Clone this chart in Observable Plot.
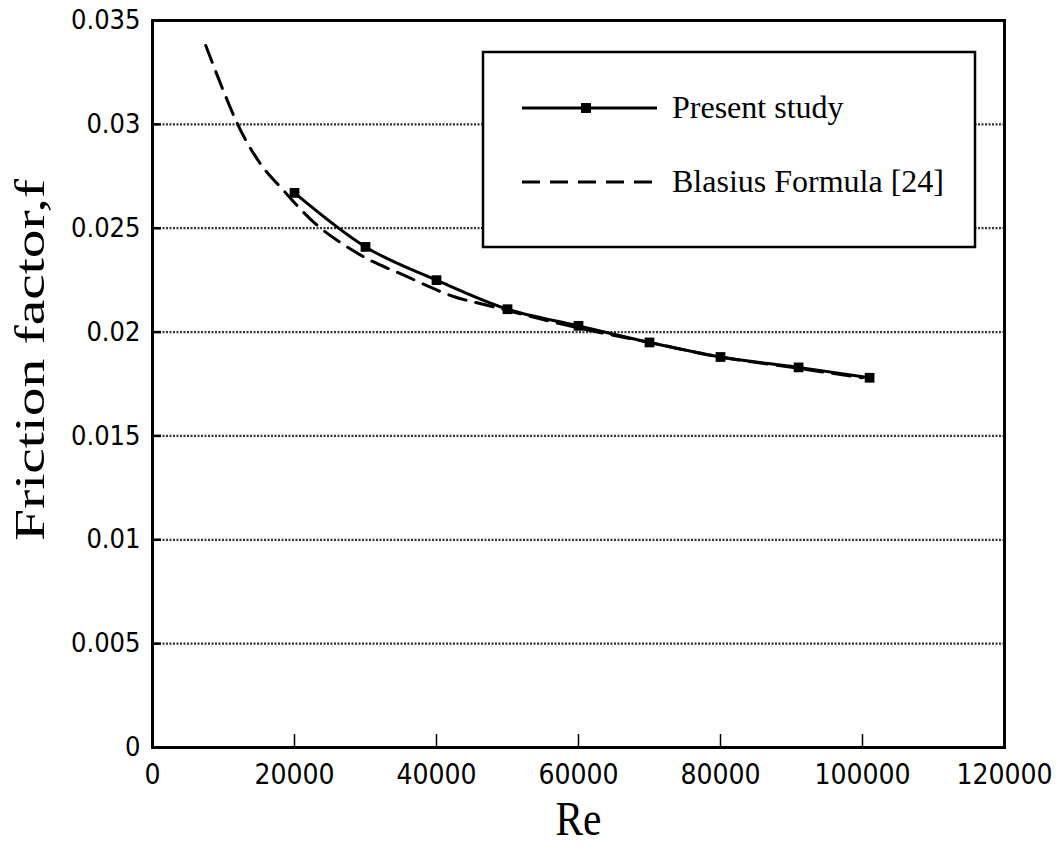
<!DOCTYPE html>
<html>
<head>
<meta charset="utf-8">
<script src="https://cdn.jsdelivr.net/npm/d3@7"></script>
<script src="https://cdn.jsdelivr.net/npm/@observablehq/plot@0.6"></script>
<style>
  html, body { margin: 0; padding: 0; background: #fff; }
  #chart { width: 1058px; height: 852px; }
</style>
</head>
<body>
<div id="chart"></div>
<script>
// ---- data ----
const presentRe = [20000, 30000, 40000, 50000, 60000, 70000, 80000, 91000, 101000];
const presentF  = [0.0267, 0.0241, 0.0225, 0.0211, 0.0203, 0.0195, 0.0188, 0.0183, 0.0178];

const blasiusRe = [7500, 10000, 12000, 14800, 18500, 23000, 26500, 31000, 35000, 42500, 47000, 55000, 60000, 70000, 80000, 90000, 100000];
const blasiusF  = [0.0338, 0.0316, 0.0300, 0.0283, 0.0268, 0.0252, 0.0243, 0.0234, 0.0228, 0.0217, 0.0213, 0.0206, 0.0202, 0.0195, 0.0188, 0.0183, 0.0178];

const xTicks = [0, 20000, 40000, 60000, 80000, 100000, 120000];
const yTicks = [0, 0.005, 0.01, 0.015, 0.02, 0.025, 0.03, 0.035];
const gridTicks = [0.005, 0.01, 0.015, 0.02, 0.025, 0.03];
const innerXTicks = [20000, 40000, 60000, 80000, 100000];

const seriesNames = ["Present study", "Blasius Formula [24]"];
const xTitle = "Re";
const yTitle = "Friction factor,f";

const present = presentRe.map((re, i) => ({re, f: presentF[i]}));
const blasius = blasiusRe.map((re, i) => ({re, f: blasiusF[i]}));

const tickFont = "'DejaVu Sans Condensed', 'DejaVu Sans', sans-serif";
const serif = "'Liberation Serif', 'DejaVu Serif', serif";

const chart = Plot.plot({
  width: 1058,
  height: 852,
  marginLeft: 152,
  marginRight: 54,
  marginTop: 20,
  marginBottom: 105,
  style: {background: "#fff", color: "#000", overflow: "visible"},
  x: {domain: [0, 120000]},
  y: {domain: [0, 0.035]},
  marks: [
    Plot.gridY(gridTicks, {stroke: "#333", strokeOpacity: 1, strokeWidth: 2.2, strokeDasharray: "2,1.5"}),
    // inward tick marks (axis ticks shifted inside the frame)
    Plot.axisY(gridTicks, {tickSize: 9, dx: 9, text: null, strokeWidth: 2.5, label: null}),
    Plot.axisX(innerXTicks, {tickSize: 13, dy: -13, text: null, strokeWidth: 1.5, label: null}),
    // tick labels
    Plot.axisY(yTicks, {tickSize: 0, tickPadding: 12, tickFormat: d => String(d), fontSize: 27, fontFamily: tickFont, fontStretch: "condensed", label: null}),
    Plot.axisX(xTicks, {tickSize: 0, tickPadding: 17, tickFormat: d => String(d), fontSize: 28, fontFamily: tickFont, fontStretch: "condensed", label: null}),
    Plot.line(blasius, {x: "re", y: "f", stroke: "#000", strokeWidth: 3, strokeDasharray: "18,10", curve: "monotone-x"}),
    Plot.line(present, {x: "re", y: "f", stroke: "#000", strokeWidth: 3, curve: "monotone-x"}),
    Plot.dot(present, {x: "re", y: "f", symbol: "square", r: 5.5, fill: "#000", stroke: "none"}),
    Plot.frame({stroke: "#000", strokeWidth: 3}),
    Plot.text([yTitle], {className: "ytitle", frameAnchor: "left", textAnchor: "middle", dx: -122, dy: -24, rotate: -90, fontSize: 42, fontFamily: serif, fill: "#000"}),
    Plot.text([xTitle], {className: "xtitle", frameAnchor: "bottom", textAnchor: "middle", dy: 87, fontSize: 48, fontFamily: serif, fill: "#000"})
  ]
});

document.getElementById("chart").appendChild(chart);

const svg = d3.select(chart);
// stretch the axis titles like the reference
svg.selectAll(".ytitle text").attr("textLength", 362).attr("lengthAdjust", "spacingAndGlyphs");
svg.selectAll(".xtitle text").attr("textLength", 46).attr("lengthAdjust", "spacingAndGlyphs");

// ---- legend (drawn inside the plot frame) ----
const lg = svg.append("g").attr("class", "legend").attr("text-anchor", "start");
lg.append("rect")
  .attr("x", 483).attr("y", 52).attr("width", 492).attr("height", 195)
  .attr("fill", "#fff").attr("stroke", "#000").attr("stroke-width", 2.5);
const rows = [
  {name: seriesNames[0], dash: null, marker: true},
  {name: seriesNames[1], dash: "18,10", marker: false}
];
rows.forEach((r, i) => {
  const y = 108 + i * 74;
  lg.append("line")
    .attr("x1", 522).attr("x2", 657).attr("y1", y).attr("y2", y)
    .attr("stroke", "#000").attr("stroke-width", 3)
    .attr("stroke-dasharray", r.dash);
  if (r.marker) {
    lg.append("rect").attr("x", 586 - 5).attr("y", y - 5).attr("width", 10).attr("height", 10).attr("fill", "#000");
  }
  lg.append("text")
    .attr("x", 672).attr("y", y).attr("dy", "0.32em")
    .attr("text-anchor", "start")
    .attr("font-family", serif).attr("font-size", 32).attr("fill", "#000")
    .text(r.name);
});
</script>
</body>
</html>
